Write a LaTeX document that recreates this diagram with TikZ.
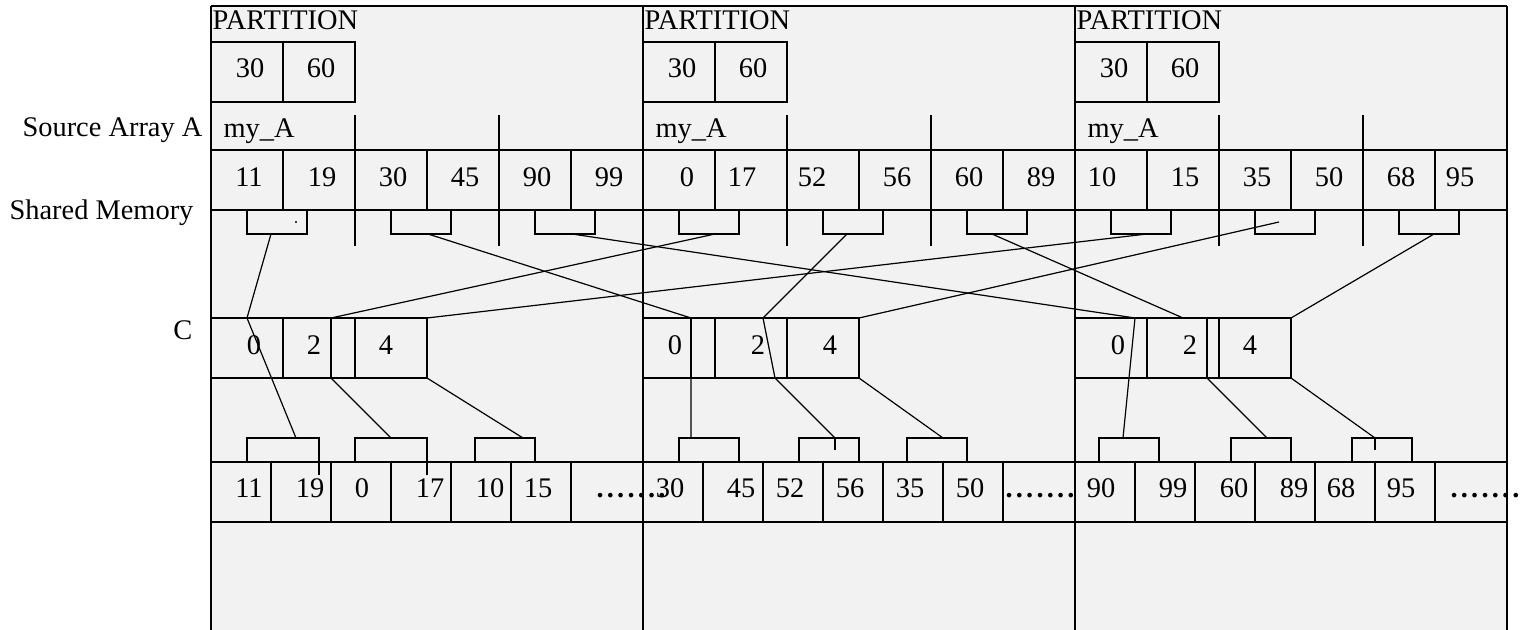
\documentclass[tikz,border=0pt]{standalone}
\usepackage{fontspec}
\setmainfont{Liberation Serif}
\usetikzlibrary{positioning,calc}
\definecolor{panelgray}{RGB}{242,242,242}
\tikzset{
  num/.style={anchor=base, inner sep=0pt, font=\fontsize{14.2}{17}\selectfont},
  slot/.style={draw, rectangle, inner sep=0pt, outer sep=0pt, minimum width=30pt, minimum height=12pt, anchor=north west},
  ccell/.style={draw, rectangle, inner sep=0pt, outer sep=0pt, minimum height=30pt, anchor=north west},
  wire/.style={line width=0.6pt},
}
\newcommand{\dotrow}{\textbf{.\kern1.6pt.\kern1.6pt.\kern1.6pt.\kern1.6pt.\kern1.6pt.\kern1.6pt.}}

\begin{document}
\begin{tikzpicture}[x=0.5pt,y=-0.5pt,line width=0.6pt]
	\useasboundingbox (0,0) rectangle (1532,630);
	\fill[panelgray] (211,6) rectangle (1507,630);
	% partition frames and full rows
	\draw (211,6) -- (1507,6);
	\foreach \x in {211,643,1075,1507}
		\draw (\x,6) -- (\x,630);
	\foreach \y in {150,210,462,522}
		\draw (211,\y) -- (1507,\y);
	% parts repeated in every partition
	\foreach \o [count=\p] in {0,432,864} {
		\node[num, anchor=base west] (part\p) at (212+\o,30) {PARTITION};
		\draw (211+\o,42) rectangle (283+\o,102);
		\draw (283+\o,42) rectangle (355+\o,102);
		\node[num] (pa\p) at (250+\o,78) {30};
		\node[num] (pb\p) at (321+\o,78) {60};
		\node[num, anchor=base west] (myA\p) at (223+\o,138) {my\_A};
		\foreach \s in {144,288} {
			\draw (211+\o+\s,115) -- (211+\o+\s,150);
			\draw (211+\o+\s,210) -- (211+\o+\s,246);
		}
		\foreach \s in {72,144,216,288,360}
			\draw (211+\o+\s,150) -- (211+\o+\s,210);
		\foreach \s in {60,120,180,240,300,360}
			\draw (211+\o+\s,462) -- (211+\o+\s,522);
		\foreach \s [count=\i] in {36,180,324}
			\node[slot] (sm\p\i) at (211+\o+\s,210) {};
	}
	\fill ([xshift=9.5pt]sm11.center) circle (0.6pt);
	% row labels
	\node[num, anchor=base east] (lblsrc) at (203,137) {Source Array A};
	\node[num, anchor=base east] (lblshm) at (194,220) {Shared Memory};
	\node[num, anchor=base east] (lblc) at (193,340) {C};
	% source array values
	\foreach \x/\v [count=\i] in {249/11,322/19,393/30,465/45,537/90,609/99,687/0,742/17,812/52,897/56,969/60,1041/89,1102/10,1185/15,1257/35,1329/50,1401/68,1460/95}
		\node[num] (src\i) at (\x,187) {\v};
	% C cells
	\node[ccell, minimum width=36pt] (c1a) at (211,318) {};
	\node[ccell, minimum width=24pt, right=0pt of c1a] (c1b) {};
	\node[ccell, minimum width=12pt, right=0pt of c1b] (c1c) {};
	\node[ccell, minimum width=36pt, right=0pt of c1c] (c1d) {};
	\node[ccell, minimum width=24pt] (c2a) at (643,318) {};
	\node[ccell, minimum width=12pt, right=0pt of c2a] (c2b) {};
	\node[ccell, minimum width=36pt, right=0pt of c2b] (c2c) {};
	\node[ccell, minimum width=36pt, right=0pt of c2c] (c2d) {};
	\node[ccell, minimum width=36pt] (c3a) at (1075,318) {};
	\node[ccell, minimum width=30pt, right=0pt of c3a] (c3b) {};
	\node[ccell, minimum width=6pt, right=0pt of c3b] (c3c) {};
	\node[ccell, minimum width=36pt, right=0pt of c3c] (c3d) {};
	\foreach \x/\v [count=\i] in {254/0,314/2,386/4,675/0,758/2,830/4,1118/0,1190/2,1250/4}
		\node[num] (cv\i) at (\x,355) {\v};
	% merged output row
	\node[slot, minimum width=36pt] (bt11) at (247,438) {};
	\node[slot, minimum width=36pt] (bt12) at (355,438) {};
	\node[slot] (bt13) at (475,438) {};
	\node[slot] (bt21) at (679,438) {};
	\node[slot] (bt22) at (799,438) {};
	\node[slot] (bt23) at (907,438) {};
	\node[slot] (bt31) at (1099,438) {};
	\node[slot] (bt32) at (1231,438) {};
	\node[slot] (bt33) at (1352,438) {};
	\foreach \x/\v [count=\i] in {249/11,310/19,362/0,430/17,490/10,538/15,670/30,741/45,790/52,850/56,910/35,970/50,1101/90,1173/99,1234/60,1294/89,1341/68,1401/95}
		\node[num] (out\i) at (\x,498) {\v};
	\node[num, anchor=base west] (dots1) at (596,498) {\dotrow};
	\node[num, anchor=base west] (dots2) at (1005,498) {\dotrow};
	\node[num, anchor=base west] (dots3) at (1450,498) {\dotrow};
	% connectors
	\draw[wire] ([xshift=-3pt]sm11.south) -- (c1a.north) -- ([xshift=6.5pt]bt11.north);
	\draw[wire] ([xshift=3.5pt]sm12.south) -- (c2a.north east) -- (c2a.south east) -- ([xshift=-9pt]bt21.north);
	\draw[wire] ([xshift=3.5pt]sm13.south) -- ([xshift=-6pt]c3a.north east) -- ([xshift=-3pt]bt31.north);
	\draw[wire] (c1b.north east) -- ([xshift=3pt]sm21.south);
	\draw[wire] (c1b.south east) -- (bt12.north);
	\draw[wire] ([xshift=-3pt]sm22.south) -- ([xshift=6pt]c2c.north) -- ([xshift=12pt]c2c.south) -- ([xshift=3pt]bt22.north);
	\draw[wire] ([xshift=-2.5pt]sm23.south) -- ([xshift=3pt]c3b.north);
	\draw[wire] (c3b.south east) -- ([xshift=3pt]bt32.north);
	\draw[wire] (c1d.north east) -- ([xshift=3pt]sm31.south);
	\draw[wire] (c1d.south east) -- ([xshift=9pt]bt13.north);
	\draw[wire] (c2d.north east) -- ([xshift=-3pt]sm32.center);
	\draw[wire] (c2d.south east) -- ([xshift=3pt]bt23.north);
	\draw[wire] ([xshift=2.5pt]sm33.south) -- (c3d.north east);
	\draw[wire] (c3d.south east) -- ([xshift=-3.5pt]bt33.north);
	% ticks
	\draw (bt11.south east) -- ++(0,13);
	\draw (bt12.south east) -- ++(0,13);
	\draw ([xshift=3pt]bt22.north) -- ++(0,12);
	\draw ([xshift=-3.5pt]bt33.north) -- ++(0,12);
\end{tikzpicture}
\end{document}
